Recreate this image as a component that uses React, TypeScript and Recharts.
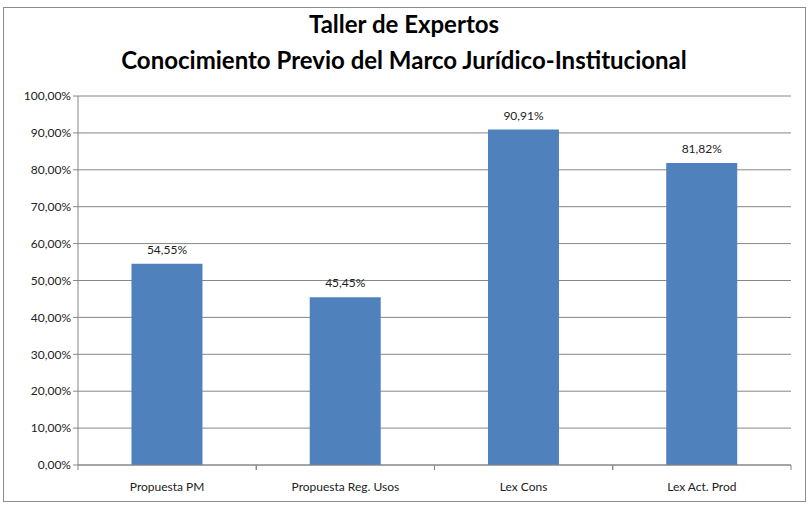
import { Bar, BarChart, CartesianGrid, LabelList, XAxis, YAxis } from "recharts";

const categories = ["Propuesta PM", "Propuesta Reg. Usos", "Lex Cons", "Lex Act. Prod"];
const values = [0.5455, 0.4545, 0.9091, 0.8182];
const yTicks = [0, 0.1, 0.2, 0.3, 0.4, 0.5, 0.6, 0.7, 0.8, 0.9, 1];

const data = categories.map((name, i) => ({ name, value: values[i] }));

const pct = (v: number) => (v * 100).toFixed(2).replace(".", ",") + "%";

const FONT = "Lato, 'Open Sans', sans-serif";
const AXIS = "#868686";
const WIDTH = 808;
const HEIGHT = 506;
const LEFT = 78;
const RIGHT = 17;
const band = (WIDTH - LEFT - RIGHT) / categories.length;

function CatTick(props: any) {
  const { x, y, payload } = props;
  return (
    <g>
      <line x1={x - band / 2} x2={x - band / 2} y1={y - 8} y2={y - 3} stroke={AXIS} />
      <line x1={x + band / 2} x2={x + band / 2} y1={y - 8} y2={y - 3} stroke={AXIS} />
      <text x={x} y={y + 18} textAnchor="middle" fill="#222" fontSize={12} fontFamily={FONT}>
        {payload.value}
      </text>
    </g>
  );
}

export default function App() {
  return (
    <div style={{ position: "absolute", left: 0, top: 0, width: WIDTH, height: HEIGHT, background: "#fff" }}>
      <div
        style={{
          position: "absolute",
          left: 3,
          top: 7,
          width: 801,
          height: 493,
          border: "1px solid #8c8c8c",
        }}
      />
      <div
        style={{
          position: "absolute",
          left: 0,
          top: 6,
          width: WIDTH,
          textAlign: "center",
          fontFamily: FONT,
          fontWeight: 700,
          fontSize: 24,
          lineHeight: "36px",
          color: "#000",
        }}
      >
        <div>Taller de Expertos</div>
        <div>Conocimiento Previo del Marco Jurídico-Institucional</div>
      </div>
      <div style={{ position: "absolute", left: 0, top: 0 }}>
        <BarChart
          width={WIDTH}
          height={HEIGHT}
          data={data}
          margin={{ top: 96, right: RIGHT, bottom: 0, left: 0 }}
          barCategoryGap="30%"
        >
          <CartesianGrid vertical={false} stroke={AXIS} strokeDasharray="" />
          <XAxis
            dataKey="name"
            height={41}
            stroke={AXIS}
            tickLine={false}
            tick={<CatTick />}
            interval={0}
          />
          <YAxis
            width={LEFT}
            domain={[0, 1]}
            ticks={yTicks}
            tickFormatter={pct}
            stroke={AXIS}
            tickSize={5}
            tick={{ fill: "#222", fontSize: 12, fontFamily: FONT }}
            interval={0}
          />
          <Bar dataKey="value" fill="#4F81BD" isAnimationActive={false}>
            <LabelList
              dataKey="value"
              position="top"
              offset={10}
              formatter={(v: any) => pct(Number(v))}
              style={{ fill: "#222", fontSize: 12, fontFamily: FONT }}
            />
          </Bar>
        </BarChart>
      </div>
    </div>
  );
}
